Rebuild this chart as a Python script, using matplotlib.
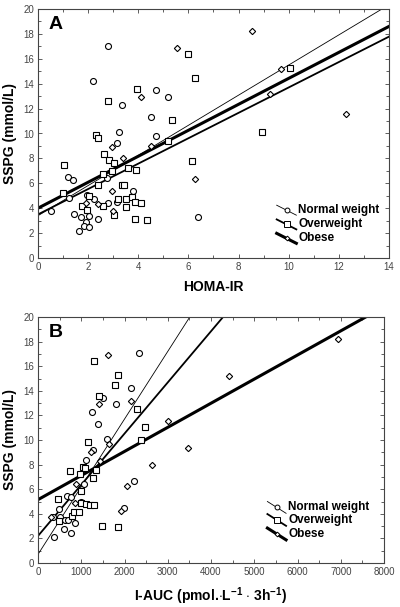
import numpy as np
import matplotlib
matplotlib.use("Agg")
import matplotlib.pyplot as plt

plt.rcParams['font.family'] = ['Liberation Sans', 'DejaVu Sans']
plt.rcParams['mathtext.fontset'] = 'custom'
plt.rcParams['mathtext.rm'] = 'Liberation Sans'
plt.rcParams['mathtext.bf'] = 'Liberation Sans:bold'

# ---- panel A : HOMA-IR vs SSPG ----
homa_nw = [0.5, 1.2, 1.4, 1.25, 1.45, 1.7, 1.65, 1.9, 1.85, 2.05, 2.05, 2.4, 1.95, 2.25,
           2.8, 2.75, 3.15, 3.8, 2.2, 2.8, 3.35, 3.25, 3.15, 4.7, 5.2, 4.5, 4.7, 6.4]
sspg_a_nw = [3.8, 6.5, 6.3, 4.85, 3.5, 3.3, 2.2, 2.9, 2.6, 2.45, 3.4, 3.1, 5.05, 4.7,
             4.4, 6.45, 4.5, 5.4, 14.2, 17.0, 12.25, 10.1, 9.2, 13.5, 12.9, 11.35, 9.8, 3.3]

homa_ow = [1.05, 1.0, 1.75, 1.95, 2.05, 2.6, 2.65, 2.85, 3.05, 2.6, 2.95, 3.35, 3.45, 3.6,
           3.9, 3.2, 3.5, 3.75, 3.85, 4.1, 3.5, 3.05, 3.85, 4.35, 2.3, 2.4, 2.8, 3.95,
           5.35, 6.0, 6.25, 6.15, 5.2, 8.95, 10.05, 2.4]
sspg_a_ow = [7.5, 5.2, 4.2, 3.85, 5.0, 4.15, 8.35, 7.85, 7.6, 6.75, 7.0, 5.85, 5.85, 7.25,
             7.05, 4.75, 4.75, 4.9, 4.5, 4.45, 4.1, 3.45, 3.1, 3.05, 9.85, 9.65, 12.6, 13.55,
             11.1, 16.4, 14.45, 7.8, 9.4, 10.1, 15.3, 5.9]

homa_ob = [1.9, 2.4, 2.95, 3.0, 2.95, 3.4, 4.1, 4.5, 5.55, 6.25, 8.55, 9.7, 9.25, 12.3]
sspg_a_ob = [4.4, 4.3, 5.4, 3.8, 8.9, 8.05, 12.9, 9.0, 16.9, 6.35, 18.25, 15.2, 13.2, 11.6]

# regression lines (intercept, slope) nw / ow / ob
fit_a = [(3.4, 1.21), (3.5, 1.02), (4.0, 1.043)]

# ---- panel B : I-AUC vs SSPG ----
iauc_nw = [2340, 2160, 1510, 1800, 1245, 1380, 1585, 1280, 1100, 1070, 660, 755, 1000,
           490, 350, 510, 620, 695, 855, 600, 770, 370, 2230, 1980]
sspg_b_nw = [17.05, 14.2, 13.45, 12.9, 12.25, 11.33, 10.05, 9.16, 8.4, 6.42, 5.44, 5.39, 5.0,
             4.4, 3.72, 3.7, 3.52, 3.47, 3.25, 2.8, 2.46, 2.1, 6.7, 4.45]

iauc_ow = [1290, 1845, 1785, 1400, 2297, 2470, 1165, 2390, 750, 1030, 1095, 965, 1350,
           1280, 465, 985, 1000, 1100, 1210, 1290, 480, 790, 825, 940, 1490, 1845]
sspg_b_ow = [16.4, 15.3, 14.45, 13.6, 12.55, 11.08, 9.8, 10.0, 7.5, 7.83, 7.75, 7.2, 7.56,
             6.91, 5.18, 5.83, 4.9, 4.79, 4.73, 4.68, 3.4, 3.81, 4.12, 4.14, 3.0, 2.96]

iauc_ob = [1610, 1420, 2145, 3006, 1640, 3470, 4410, 6930, 1235, 1440, 870, 300, 2060,
           2645, 1930, 850]
sspg_b_ob = [16.9, 12.9, 13.15, 11.57, 9.7, 9.38, 15.23, 18.24, 9.0, 8.3, 6.4, 3.74, 6.29,
             8.0, 4.25, 4.9]

fit_b = [(0.7, 0.0055), (2.2, 0.00416), (5.15, 0.00196)]

groups = ['Normal weight', 'Overweight', 'Obese']
markers = ['o', 's', 'D']
msizes = [4.3, 4.4, 3.2]
lwidths = [0.6, 1.3, 2.2]
tick_col = '#444444'


def panel(ax, xs, ys, fits, xmax, xmajor, xminor, letter, xlabel, leg):
    for x, y, m, ms in zip(xs, ys, markers, msizes):
        ax.plot(x, y, ls='none', marker=m, ms=ms, mfc='white', mec='black', mew=0.8, zorder=3)
    xx = np.array([0, xmax])
    for (a, b), lw in zip(fits, lwidths):
        ax.plot(xx, a + b * xx, color='black', lw=lw, zorder=2)
    ax.set_xlim(0, xmax)
    ax.set_ylim(0, 20)
    ax.set_xticks(np.arange(0, xmax + 1, xmajor))
    ax.set_xticks(np.arange(0, xmax + 1, xminor), minor=True)
    ax.set_yticks(np.arange(0, 21, 2))
    ax.set_yticks(np.arange(0, 21, 1), minor=True)
    ax.tick_params(which='both', direction='in', top=True, right=True, color=tick_col,
                   labelsize=7, labelcolor=tick_col, pad=3)
    ax.tick_params(which='major', length=3, width=0.6)
    ax.tick_params(which='minor', length=2, width=0.6)
    for s in ax.spines.values():
        s.set_color(tick_col)
        s.set_linewidth(0.8)
    ax.set_ylabel('SSPG (mmol/L)', fontsize=10, fontweight='bold', labelpad=4)
    ax.set_xlabel(xlabel, fontsize=10, fontweight='bold', labelpad=6)
    ax.text(0.03, 0.97, letter, transform=ax.transAxes, fontsize=14, fontweight='bold',
            va='top', ha='left')
    # legend drawn by hand: diagonal line with marker in the middle
    mx, tx, rows, dx, dy = leg
    for g, m, ms, lw, ry in zip(groups, markers, msizes, lwidths, rows):
        ax.plot([mx - dx, mx + dx], [ry + dy, ry - dy], color='black', lw=lw,
                transform=ax.transAxes, clip_on=False)
        ax.plot([mx], [ry], marker=m, ms=ms - 0.8, mfc='white', mec='black', mew=0.7,
                transform=ax.transAxes, clip_on=False)
        ax.text(tx, ry, g, transform=ax.transAxes, fontsize=8.5, fontweight='bold',
                va='center', ha='left')


fig = plt.figure(figsize=(4, 6.07), dpi=100)
axA = fig.add_axes([38 / 400, (607 - 258) / 607, 351 / 400, 249 / 607])
axB = fig.add_axes([38 / 400, (607 - 563) / 607, 346 / 400, 246 / 607])

panel(axA, [homa_nw, homa_ow, homa_ob], [sspg_a_nw, sspg_a_ow, sspg_a_ob], fit_a,
      14, 2, 1, 'A', 'HOMA-IR',
      (0.708, 0.742, [0.192, 0.135, 0.079], 0.028, 0.02))
panel(axB, [iauc_nw, iauc_ow, iauc_ob], [sspg_b_nw, sspg_b_ow, sspg_b_ob], fit_b,
      8000, 1000, 500, 'B', r'I-AUC (pmol.$\cdot$L$^{\mathbf{-1}}$ $\cdot$ 3h$^{\mathbf{-1}}$)',
      (0.69, 0.723, [0.226, 0.175, 0.118], 0.027, 0.024))

fig.savefig('out.png', dpi=100)
